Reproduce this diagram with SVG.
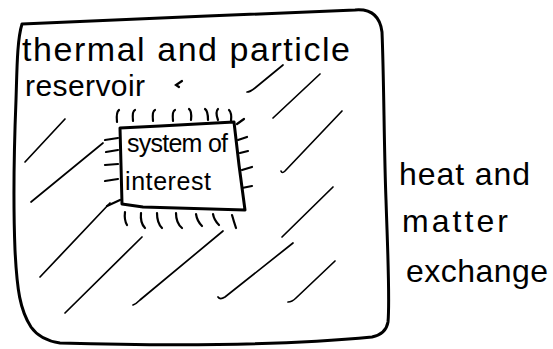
<svg xmlns="http://www.w3.org/2000/svg" width="553" height="349" viewBox="0 0 553 349">
  <style>
    .box { fill: none; stroke: #000; stroke-width: 3; stroke-linejoin: round; stroke-linecap: round; }
    .hatch { fill: none; stroke: #000; stroke-width: 1.7; stroke-linecap: round; }
    .tick { fill: none; stroke: #000; stroke-width: 2.2; stroke-linecap: round; }
    .hand { font-family: "Liberation Sans", "DejaVu Sans", sans-serif; fill: #000; }
  </style>
  <rect x="0" y="0" width="553" height="349" fill="#fff"/>

  <!-- outer reservoir -->
  <g id="reservoir">
    <path class="box" d="M 22 24 C 120 20, 250 14, 355 10 Q 379 8, 382 32 C 384 80, 384 150, 386 200 C 388 260, 390 300, 388 322 Q 386 334, 372 337 C 300 344, 200 347, 60 343 Q 40 340, 31 327 C 20 310, 17 290, 15 250 C 13 200, 14 150, 16 100 C 17 70, 17 40, 22 24 Z"/>
    <text class="hand" x="22" y="61" font-size="34" textLength="328" lengthAdjust="spacing">thermal and particle</text>
    <text class="hand" x="25" y="96" font-size="30" textLength="120" lengthAdjust="spacing">reservoir</text>
    <path class="tick" d="M 182 81 L 176 85 L 179 87"/>
  </g>

  <!-- diagonal hatching of the reservoir -->
  <g id="hatching">
    <path class="hatch" d="M 25 162 L 65 119"/>
    <path class="hatch" d="M 31 202 L 103 143"/>
    <path class="hatch" d="M 40 277 L 110 203"/>
    <path class="hatch" d="M 65 313 L 142 237"/>
    <path class="hatch" d="M 133 305 Q 136 304 140 300 L 223 231"/>
    <path class="hatch" d="M 218 297 Q 220 300 225 297 L 293 243"/>
    <path class="hatch" d="M 288 302 Q 292 302 296 298 L 335 261"/>
    <path class="hatch" d="M 282 237 L 333 187"/>
    <path class="hatch" d="M 281 171 Q 282 174 285 171 L 342 111"/>
    <path class="hatch" d="M 273 118 L 320 74"/>
    <path class="hatch" stroke-width="2.4" d="M 247 92 Q 250 92 255 88 L 283 65"/>
  </g>

  <!-- system of interest -->
  <g id="system">
    <path class="box" d="M 120 128 L 160 126 L 234 122 L 239 165 L 245 210 L 143 207 L 122 204 L 121 165 Z"/>
    <text class="hand" x="127" y="152" font-size="25" textLength="101" lengthAdjust="spacing">system of</text>
    <text class="hand" x="125" y="190" font-size="25" textLength="86" lengthAdjust="spacing">interest</text>
  </g>

  <!-- exchange ticks around the system boundary -->
  <g id="exchange-ticks">
    <path class="tick" d="M 119 110 Q 116 112 117 122"/>
    <path class="tick" d="M 135 110 Q 132 111 133 121"/>
    <path class="tick" d="M 155 110 Q 152 111 153 121"/>
    <path class="tick" d="M 175 110 Q 172 111 173 121"/>
    <path class="tick" d="M 189 109 Q 192 111 191 120"/>
    <path class="tick" d="M 205 109 Q 208 111 208 120"/>
    <path class="tick" d="M 218 109 Q 215 112 218 120"/>
    <path class="tick" d="M 229 110 Q 232 113 231 121"/>

    <path class="tick" d="M 105 140 L 118 138"/>
    <path class="tick" d="M 106 152 L 118 150"/>
    <path class="tick" d="M 105 165 L 118 164"/>
    <path class="tick" d="M 105 181 L 118 179"/>
    <path class="tick" d="M 107 206 L 120 200"/>

    <path class="tick" d="M 237 124 L 244 119"/>
    <path class="tick" d="M 238 140 L 247 137"/>
    <path class="tick" d="M 240 153 L 248 151"/>
    <path class="tick" d="M 242 170 L 252 167"/>
    <path class="tick" d="M 242 188 L 252 186"/>

    <path class="tick" d="M 125 212 Q 124 220 127 225"/>
    <path class="tick" d="M 141 213 Q 140 223 145 228"/>
    <path class="tick" d="M 157 213 Q 157 223 162 228"/>
    <path class="tick" d="M 176 213 Q 176 223 182 228"/>
    <path class="tick" d="M 196 214 Q 197 221 202 226"/>
    <path class="tick" d="M 213 214 Q 214 220 219 225"/>
    <path class="tick" d="M 232 215 Q 234 222 236 228"/>
  </g>

  <!-- label outside the reservoir -->
  <g id="exchange-label">
    <text class="hand" x="399" y="185" font-size="32" textLength="131" lengthAdjust="spacing">heat and</text>
    <text class="hand" x="402" y="232" font-size="32" textLength="106" lengthAdjust="spacing">matter</text>
    <text class="hand" x="406" y="282" font-size="32" textLength="142" lengthAdjust="spacing">exchange</text>
  </g>
</svg>
